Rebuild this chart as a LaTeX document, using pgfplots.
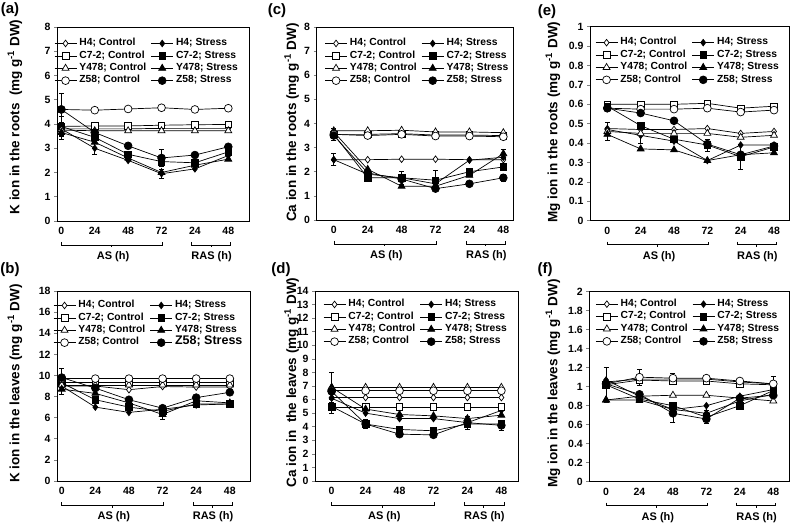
\documentclass[border=0pt]{standalone}
\usepackage{fontspec}
\setmainfont{Liberation Sans}
\usepackage{pgfplots}
\pgfplotsset{compat=1.18}
\newcommand{\fTick}{\fontsize{10.5}{12}\selectfont\bfseries}
\newcommand{\fLeg}{\fontsize{10.3}{12}\selectfont\bfseries}
\newcommand{\fYl}{\fontsize{13.5}{15}\selectfont\bfseries}
\newcommand{\fPl}{\fontsize{15}{17}\selectfont\bfseries}
\newcommand{\fAx}{\fontsize{11}{13}\selectfont\bfseries}
\pgfplotsset{
  hc/.style={black, mark=diamond*, mark size=3.3pt, mark options={fill=white, solid}},
  hs/.style={black, mark=diamond*, mark size=3.3pt, mark options={fill=black, solid}},
  cc/.style={black, mark=square*, mark size=3.3pt, mark options={fill=white, solid}},
  cs/.style={black, mark=square*, mark size=3.3pt, mark options={fill=black, solid}},
  yc/.style={black, mark=triangle*, mark size=4pt, mark options={fill=white, solid}},
  ys/.style={black, mark=triangle*, mark size=4pt, mark options={fill=black, solid}},
  zc/.style={black, mark=*, mark size=3.9pt, mark options={fill=white, solid}},
  zs/.style={black, mark=*, mark size=3.9pt, mark options={fill=black, solid}},
  panel/.style={
    scale only axis, anchor=south west, clip=false,
    ymin=0,
    axis line style={line width=0.8pt},
    tick align=outside, ytick pos=left, xtick pos=bottom,
    major tick length=3pt,
    ytick style={line width=0.7pt},
    xtick={0,1,2,3,4,5}, xticklabels={0,24,48,72,24,48},
    x tick style={draw=none},
    tick label style={font=\fTick},
    /pgf/number format/assume math mode=true,
    /pgf/number format/fixed,
    legend columns=2,
    legend cell align=left,
    legend image code/.code={\draw[mark repeat=2, mark phase=2, line width=0.7pt] plot coordinates {(0pt,0pt) (11pt,0pt) (22pt,0pt)};},
    legend style={draw=none, fill=none, anchor=north west, at={(0,1)}, font=\fLeg,
      inner sep=0pt, row sep=1.9pt,
      nodes={inner sep=0pt, text height=7.5pt, text depth=3pt},
      /tikz/every odd column/.append style={column sep=2.5pt},
      /tikz/every even column/.append style={column sep=4.5pt}},
    legend entries={H4; Control, H4; Stress, C7-2; Control, C7-2; Stress, Y478; Control, Y478; Stress, Z58; Control, Z58; Stress},
    every axis plot/.append style={line width=0.7pt, error bars/y dir=both, error bars/y explicit,
      error bars/error mark options={rotate=90, black, mark size=2.5pt, line width=0.6pt},
      error bars/error bar style={black, line width=0.6pt}},
  },
}
\newcommand{\brackets}{%
  \draw[line width=0.5pt] ([yshift=-21pt]axis cs:0,0) -- ([yshift=-24pt]axis cs:0,0) -- ([yshift=-24pt]axis cs:3.03,0) -- ([yshift=-21pt]axis cs:3.03,0);
  \draw[line width=0.5pt] ([yshift=-24pt]axis cs:1.5,0) -- ([yshift=-26.5pt]axis cs:1.5,0);
  \draw[line width=0.5pt] ([yshift=-21pt]axis cs:3.9,0) -- ([yshift=-24pt]axis cs:3.9,0) -- ([yshift=-24pt]axis cs:5.07,0) -- ([yshift=-21pt]axis cs:5.07,0);
  \draw[line width=0.5pt] ([yshift=-24pt]axis cs:4.48,0) -- ([yshift=-26.5pt]axis cs:4.48,0);
  \node[font=\fAx] at ([yshift=-36pt]axis cs:1.55,0) {AS (h)};
  \node[font=\fAx] at ([yshift=-36pt]axis cs:4.5,0) {RAS (h)};
}
\begin{document}
\begin{tikzpicture}
\path[use as bounding box] (0,0) rectangle (791pt,525pt);
% ---------------- (a)
\begin{axis}[panel, at={(57pt,304pt)}, width=192pt, height=194pt, xmin=-0.13, xmax=5.62, ymax=8, ytick={0,1,...,8},
  legend style={xshift=-3pt, yshift=-11pt}]
\addplot[hc] coordinates {(0,3.8) (1,3.8) (2,3.8) (3,3.82) (4,3.82) (5,3.82)};
\addplot[hs] coordinates {(0,3.8) +- (0,0.25) (1,3.0) +- (0,0.25) (2,2.5) (3,1.95) +- (0,0.2) (4,2.15) (5,2.7)};
\addplot[cc] coordinates {(0,3.9) (1,3.92) (2,3.92) (3,3.95) (4,3.97) (5,3.98)};
\addplot[cs] coordinates {(0,3.9) +- (0,0.4) (1,3.45) (2,2.75) (3,2.45) (4,2.4) (5,2.85)};
\addplot[yc] coordinates {(0,3.75) (1,3.72) (2,3.72) (3,3.72) (4,3.72) (5,3.72)};
\addplot[ys] coordinates {(0,3.65) +- (0,0.3) (1,3.25) (2,2.6) (3,2.0) (4,2.3) (5,2.55)};
\addplot[zc] coordinates {(0,4.6) (1,4.57) (2,4.62) (3,4.67) (4,4.6) (5,4.65)};
\addplot[zs] coordinates {(0,4.6) +- (0,0.65) (1,3.65) (2,3.1) (3,2.6) +- (0,0.35) (4,2.72) (5,3.06)};
\brackets
\end{axis}
% ---------------- (b)
\begin{axis}[panel, at={(57pt,44pt)}, width=193pt, height=190pt, xmin=-0.14, xmax=5.6, ymax=18, ytick={0,2,...,18},
  legend style={xshift=-4pt, yshift=-9pt},
  legend entries={H4; Control, H4; Stress, C7-2; Control, C7-2; Stress, Y478; Control, Y478; Stress, Z58; Control, {\fontsize{12.5}{12}\selectfont\bfseries Z58; Stress}}]
\addplot[hc] coordinates {(0,9.0) (1,9.0) (2,8.65) (3,8.95) (4,8.9) (5,8.9)};
\addplot[hs] coordinates {(0,9.0) (1,7.0) (2,6.5) (3,6.8) (4,7.2) (5,7.3)};
\addplot[cc] coordinates {(0,9.3) (1,9.3) (2,9.3) (3,9.3) (4,9.3) (5,9.3)};
\addplot[cs] coordinates {(0,9.3) (1,7.7) (2,7.0) (3,6.6) (4,7.3) (5,7.3)};
\addplot[yc] coordinates {(0,9.1) (1,9.1) (2,9.1) (3,9.1) (4,9.1) (5,9.1)};
\addplot[ys] coordinates {(0,8.7) +- (0,0.5) (1,8.3) (2,7.4) (3,6.3) +- (0,0.45) (4,7.6) (5,7.4)};
\addplot[zc] coordinates {(0,9.7) (1,9.7) (2,9.7) (3,9.7) (4,9.7) (5,9.7)};
\addplot[zs] coordinates {(0,9.8) +- (0,0.9) (1,8.8) (2,7.7) (3,6.9) (4,7.9) (5,8.4)};
\brackets
\end{axis}
% ---------------- (c)
\begin{axis}[panel, at={(316.5pt,305pt)}, width=197pt, height=193pt, xmin=-0.51, xmax=5.3, ymax=8, ytick={0,1,...,8},
  legend style={xshift=8pt, yshift=-11pt}]
\addplot[hc] coordinates {(0,2.5) +- (0,0.25) (1,2.5) (2,2.52) (3,2.52) (4,2.5) (5,2.5)};
\addplot[hs] coordinates {(0,2.5) +- (0,0.25) (1,1.9) (2,1.75) (3,1.5) (4,2.48) (5,2.6)};
\addplot[cc] coordinates {(0,3.55) (1,3.55) (2,3.58) (3,3.52) (4,3.52) (5,3.5)};
\addplot[cs] coordinates {(0,3.55) +- (0,0.25) (1,1.75) (2,1.75) +- (0,0.25) (3,1.65) +- (0,0.4) (4,2.0) (5,2.2)};
\addplot[yc] coordinates {(0,3.7) (1,3.7) (2,3.72) (3,3.65) (4,3.65) (5,3.62)};
\addplot[ys] coordinates {(0,3.65) +- (0,0.15) (1,2.1) (2,1.4) (3,1.4) (4,1.85) (5,2.75) +- (0,0.2)};
\addplot[zc] coordinates {(0,3.55) (1,3.5) (2,3.55) (3,3.48) (4,3.48) (5,3.45)};
\addplot[zs] coordinates {(0,3.5) +- (0,0.2) (1,1.95) (2,1.7) (3,1.3) (4,1.5) (5,1.75) +- (0,0.15)};
\brackets
\end{axis}
% ---------------- (d)
\begin{axis}[panel, at={(315pt,44pt)}, width=203pt, height=190pt, xmin=-0.49, xmax=5.49, ymax=14, ytick={0,1,...,14},
  legend style={xshift=8pt, yshift=-8pt}]
\addplot[hc] coordinates {(0,6.15) (1,6.15) (2,6.15) (3,6.15) (4,6.15) (5,6.15)};
\addplot[hs] coordinates {(0,6.1) (1,5.0) (2,4.6) (3,4.6) (4,4.3) +- (0,0.5) (5,5.2)};
\addplot[cc] coordinates {(0,5.45) (1,5.45) (2,5.45) (3,5.45) (4,5.45) (5,5.45)};
\addplot[cs] coordinates {(0,5.5) +- (0,0.5) (1,4.2) +- (0,0.35) (2,3.8) (3,3.7) (4,4.2) (5,4.2)};
\addplot[yc] coordinates {(0,6.9) (1,6.9) (2,6.9) (3,6.9) (4,6.9) (5,6.9)};
\addplot[ys] coordinates {(0,6.9) +- (0,1.1) (1,5.3) (2,4.9) (3,4.8) (4,4.6) (5,4.85)};
\addplot[zc] coordinates {(0,6.65) (1,6.65) (2,6.65) (3,6.65) (4,6.65) (5,6.65)};
\addplot[zs] coordinates {(0,6.6) (1,4.2) (2,3.45) (3,3.4) (4,4.3) (5,4.1) +- (0,0.4)};
\brackets
\end{axis}
% ---------------- (e)
\begin{axis}[panel, at={(590pt,304.3pt)}, width=199pt, height=194pt, xmin=-0.52, xmax=5.45, ymax=1,
  ytick={0,0.1,0.2,0.3,0.4,0.5,0.6,0.7,0.8,0.9,1},
  legend style={xshift=5pt, yshift=-10.5pt}]
\addplot[hc] coordinates {(0,0.475) +- (0,0.03) (1,0.47) (2,0.47) (3,0.475) (4,0.45) (5,0.46)};
\addplot[hs] coordinates {(0,0.47) (1,0.44) +- (0,0.04) (2,0.41) (3,0.31) (4,0.39) (5,0.39)};
\addplot[cc] coordinates {(0,0.6) (1,0.6) (2,0.6) (3,0.605) (4,0.58) (5,0.59)};
\addplot[cs] coordinates {(0,0.59) (1,0.49) (2,0.42) (3,0.39) +- (0,0.03) (4,0.33) +- (0,0.065) (5,0.38)};
\addplot[yc] coordinates {(0,0.46) (1,0.45) (2,0.45) (3,0.45) (4,0.43) (5,0.44)};
\addplot[ys] coordinates {(0,0.445) +- (0,0.03) (1,0.37) (2,0.365) (3,0.31) (4,0.34) (5,0.35)};
\addplot[zc] coordinates {(0,0.58) (1,0.575) (2,0.575) (3,0.58) (4,0.56) (5,0.57)};
\addplot[zs] coordinates {(0,0.58) (1,0.555) (2,0.515) (3,0.395) (4,0.34) (5,0.385)};
\brackets
\end{axis}
% ---------------- (f)
\begin{axis}[panel, at={(589.3pt,43.3pt)}, width=199.7pt, height=190pt, xmin=-0.5, xmax=5.47, ymax=2,
  ytick={0,0.2,0.4,0.6,0.8,1,1.2,1.4,1.6,1.8,2},
  legend style={xshift=6pt, yshift=-7pt}]
\addplot[hc] coordinates {(0,1.05) (1,1.08) (2,1.08) (3,1.08) (4,1.05) (5,1.03)};
\addplot[hs] coordinates {(0,1.07) (1,0.9) (2,0.76) (3,0.8) (4,0.9) (5,0.97)};
\addplot[cc] coordinates {(0,1.02) (1,1.07) (2,1.06) (3,1.06) (4,1.03) (5,1.02)};
\addplot[cs] coordinates {(0,1.02) +- (0,0.18) (1,0.87) (2,0.8) (3,0.68) +- (0,0.07) (4,0.8) (5,0.96)};
\addplot[yc] coordinates {(0,0.86) (1,0.9) (2,0.91) (3,0.91) (4,0.88) (5,0.85)};
\addplot[ys] coordinates {(0,0.86) (1,0.86) (2,0.76) (3,0.72) (4,0.85) (5,0.92)};
\addplot[zc] coordinates {(0,1.03) (1,1.1) +- (0,0.08) (2,1.09) +- (0,0.05) (3,1.09) (4,1.06) (5,1.03) +- (0,0.08)};
\addplot[zs] coordinates {(0,1.03) (1,0.92) (2,0.72) +- (0,0.09) (3,0.66) (4,0.88) (5,0.91)};
\brackets
\end{axis}
% ---------------- labels
\node[font=\fPl] at (10pt,515pt) {(a)};
\node[font=\fPl] at (10pt,255pt) {(b)};
\node[font=\fPl] at (277pt,514pt) {(c)};
\node[font=\fPl] at (281pt,255pt) {(d)};
\node[font=\fPl] at (547pt,513pt) {(e)};
\node[font=\fPl] at (545pt,255pt) {(f)};
\node[font=\fYl, rotate=90] at (15pt,408pt) {K ion in the roots\ \ (mg g\textsuperscript{-1} DW)};
\node[font=\fYl, rotate=90] at (15pt,141.5pt) {K ion in the leaves (mg g\textsuperscript{-1} DW)};
\node[font=\fYl, rotate=90] at (291.7pt,402.5pt) {Ca ion in the roots (mg g\textsuperscript{-1} DW)};
\node[font=\fYl, rotate=90] at (291.7pt,142.5pt) {Ca ion in\ \ the leaves (mg g\textsuperscript{-1} DW)};
\node[font=\fYl, rotate=90] at (553pt,403pt) {Mg ion in the roots (mg g\textsuperscript{-1} DW)};
\node[font=\fYl, rotate=90] at (553pt,141.5pt) {Mg ion in the leaves (mg g\textsuperscript{-1} DW)};
\end{tikzpicture}
\end{document}
